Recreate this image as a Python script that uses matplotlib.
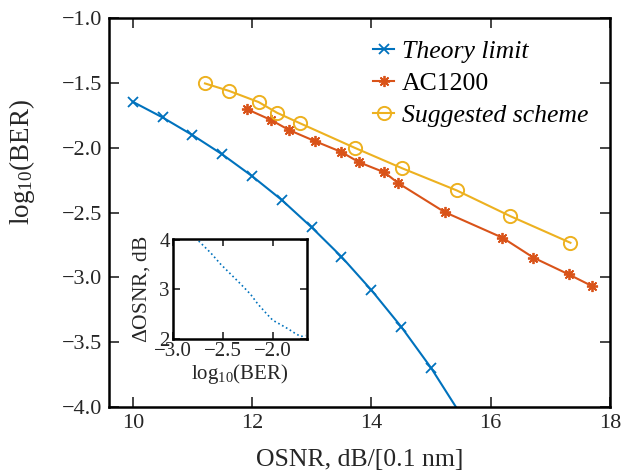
import matplotlib

matplotlib.use("Agg")
import matplotlib.pyplot as plt

plt.rcParams["font.family"] = ["Liberation Serif", "DejaVu Serif"]
plt.rcParams["mathtext.fontset"] = "custom"
plt.rcParams["mathtext.rm"] = "Liberation Serif"
plt.rcParams["mathtext.it"] = "Liberation Serif:italic"

# Theory limit
theory_osnr = [10.0, 10.5, 11.0, 11.5, 12.0, 12.5, 13.0, 13.5, 14.0, 14.5, 15.0, 15.5]
theory_ber = [-1.644, -1.765, -1.901, -2.050, -2.218, -2.403, -2.614, -2.841,
              -3.098, -3.381, -3.698, -4.06]

# AC1200
ac_osnr = [11.91, 12.32, 12.62, 13.05, 13.49, 13.80, 14.22, 14.45, 15.23,
           16.20, 16.72, 17.31, 17.70]
ac_ber = [-1.70, -1.785, -1.862, -1.947, -2.03, -2.112, -2.189, -2.272, -2.496,
          -2.694, -2.848, -2.977, -3.067]

# Suggested scheme
sug_osnr = [11.21, 11.61, 12.11, 12.42, 12.81, 13.72, 14.52, 15.43, 16.33, 17.34]
sug_ber = [-1.502, -1.559, -1.646, -1.729, -1.811, -1.999, -2.158, -2.328,
           -2.527, -2.733]

# inset: OSNR gap vs BER
gap_ber = [-2.74, -2.62, -2.52, -2.42, -2.32, -2.22, -2.15, -2.07, -2.0,
           -1.92, -1.85, -1.78, -1.72, -1.67]
gap_dosnr = [3.98, 3.74, 3.51, 3.31, 3.11, 2.90, 2.71, 2.53, 2.38,
             2.29, 2.21, 2.12, 2.05, 2.07]

blue, red, yellow = "#0072BD", "#D95319", "#EDB120"
txt = "#262626"

fig = plt.figure(figsize=(6.38, 4.73), dpi=100)
ax = fig.add_axes([0.1708, 0.140, 0.785, 0.821])

ax.plot(theory_osnr, theory_ber, color=blue, marker="x", ms=7.5, mew=1.3,
        lw=1.5, label="Theory limit")
ax.plot(ac_osnr, ac_ber, color=red, marker=(8, 2, 0), ms=8, mew=1.3,
        lw=1.5, label="AC1200")
ax.plot(sug_osnr, sug_ber, color=yellow, marker="o", ms=9.5, mew=1.4,
        mfc="none", lw=1.5, label="Suggested scheme")

ax.set_xlim(9.6, 18)
ax.set_ylim(-4, -1)
ax.set_xticks([10, 12, 14, 16, 18])
ax.set_yticks([-4.0, -3.5, -3.0, -2.5, -2.0, -1.5, -1.0])
ax.tick_params(direction="in", top=True, right=True, length=7, width=1.2,
               labelsize=16, pad=5, colors=txt, labelcolor=txt)
for s in ax.spines.values():
    s.set_linewidth(1.8)
ax.set_xlabel("OSNR, dB/[0.1 nm]", fontsize=18.5, color=txt, va="center")
ax.xaxis.set_label_coords(0.5, -0.136)
ax.set_ylabel(r"log$_{10}$(BER)", fontsize=19.5, color=txt, va="center")
ax.yaxis.set_label_coords(-0.174, 0.63)

leg = ax.legend(loc="upper right", frameon=False, fontsize=18.5,
                handlelength=0.8, handletextpad=0.3, labelspacing=0.35,
                borderaxespad=0.45)
texts = leg.get_texts()
texts[0].set_fontstyle("italic")
texts[2].set_fontstyle("italic")

ins = fig.add_axes([0.2707, 0.2833, 0.210, 0.2114])
ins.plot(gap_ber, gap_dosnr, color=blue, ls=":", lw=1.2)
ins.set_xlim(-3.0, -1.66)
ins.set_ylim(2, 4.02)
ins.set_xticks([-3.0, -2.5, -2.0])
ins.set_yticks([2, 3, 4])
ins.tick_params(direction="in", top=True, right=True, length=5, width=1.2,
                labelsize=15, pad=2, colors=txt, labelcolor=txt)
for s in ins.spines.values():
    s.set_linewidth(1.8)
ins.set_xlabel(r"log$_{10}$(BER)", fontsize=15, color=txt, labelpad=1)
ins.set_ylabel(r"$\Delta$OSNR, dB", fontsize=15.5, color=txt, labelpad=5)

fig.savefig("out.png", dpi=100)
